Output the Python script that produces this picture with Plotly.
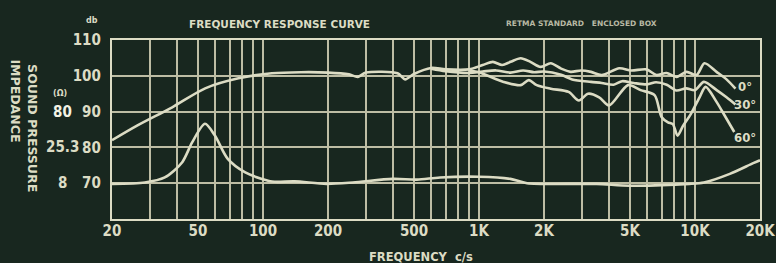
import plotly.graph_objects as go

# ---- data ----
freq_0deg = [20, 26, 38, 54, 77, 110, 150, 200, 250, 275, 300, 420, 455, 500, 600, 700, 900,
             1040, 1160, 1280, 1400, 1560, 1730, 1930, 2150, 2400, 2660, 2970, 3300, 3700,
             4460, 5070, 5960, 6630, 7380, 8210, 9140, 10170, 11070, 12580, 14000, 15400]
spl_0deg = [82, 86, 91.2, 96.5, 99.3, 100.7, 101, 100.9, 100.4, 99.7, 100.9, 100.7, 99, 100.5,
            102.2, 101.8, 101.8, 103, 103.9, 103, 103.9, 104.9, 103.9, 102.5, 103.5, 102,
            101.1, 101.5, 101.1, 100.2, 102.1, 101.5, 101.8, 100.2, 100.8, 99.7, 101.1,
            100.2, 103.5, 101.1, 99, 96.4]

freq_30deg = [600, 700, 900, 1040, 1200, 1400, 1600, 1800, 2000, 2400, 2700, 3300, 3700, 4200,
              4600, 5200, 6000, 6600, 7400, 8200, 9100, 10000, 11000, 12600, 14000, 15400]
spl_30deg = [102, 101.3, 100.8, 101.2, 101.5, 100.9, 101.5, 101, 101.2, 100.3, 99, 98.3, 98,
             97.5, 98.5, 98, 97.6, 98.2, 97.5, 95.9, 96.5, 96, 98.3, 96, 94, 92]

freq_60deg = [900, 1000, 1100, 1300, 1560, 1700, 1850, 2150, 2600, 2900, 3200, 3600, 4000,
              4900, 5600, 6500, 7000, 7500, 7900, 8300, 8800, 9500, 10500, 11200, 12500,
              14000, 15200]
spl_60deg = [101.5, 101, 100, 98.3, 97.4, 98.8, 97.4, 96.4, 95.5, 93.1, 95, 94, 91.7, 97.4,
             96, 94.6, 88.5, 87, 86.5, 83.3, 86, 89, 94, 96.9, 93, 88, 84.3]

freq_imp = [20, 28.4, 35.1, 42.2, 47, 53.9, 59.9, 68.7, 82.8, 98.9, 113, 140, 197, 261, 399,
            516, 660, 1000, 1397, 1670, 3500, 5000, 9400, 11000, 14500, 18600, 20000]
imp_db = [69.8, 70.2, 71.6, 75.8, 81.4, 86.6, 83.3, 76.8, 73, 71.2, 70.4, 70.5, 69.8, 70.2,
          71.2, 71, 71.6, 71.8, 71.2, 70, 69.8, 69.3, 69.8, 70.2, 72.6, 75.6, 76.4]

x_grid = [20, 30, 40, 50, 60, 70, 80, 90, 100, 200, 300, 400, 500, 600, 700, 800, 900,
          1000, 2000, 3000, 4000, 5000, 6000, 7000, 8000, 9000, 10000, 20000]
x_labels = {20: "20", 50: "50", 100: "100", 200: "200", 500: "500", 1000: "1K",
            2000: "2K", 5000: "5K", 10000: "10K", 20000: "20K"}
db_ticks = [70, 80, 90, 100, 110]
ohm_levels = [90, 80, 70]
ohm_labels = ["80", "25.3", "8"]
angle_labels = ["0°", "30°", "60°"]
angle_levels = [96.9, 92.0, 82.8]

# ---- styling ----
BG = "#18271f"
INK = "#dcdcc4"
GRID = "#bdbda4"
COND = "DejaVu Sans Condensed, sans-serif"
SANS = "DejaVu Sans, sans-serif"

fig = go.Figure()
line_style = dict(color=INK, width=2.6, shape="spline", smoothing=0.8)
for fx, fy in [(freq_0deg, spl_0deg), (freq_30deg, spl_30deg),
               (freq_60deg, spl_60deg), (freq_imp, imp_db)]:
    fig.add_trace(go.Scatter(x=fx, y=fy, mode="lines", line=line_style,
                             hoverinfo="skip", showlegend=False))

tick_font = dict(family=COND, size=15, color=INK, weight="bold")
fig.update_layout(
    width=776, height=263, autosize=False,
    margin=dict(l=112, r=16, t=40, b=44),
    paper_bgcolor=BG, plot_bgcolor=BG,
    showlegend=False,
    xaxis=dict(type="log", range=[1.30103, 4.30103], automargin=False,
               tickmode="array", tickvals=x_grid,
               ticktext=[x_labels.get(v, "") for v in x_grid],
               showgrid=True, gridcolor=GRID, gridwidth=1.6,
               showline=True, linecolor=INK, linewidth=2.4, mirror=True,
               ticks="", zeroline=False, ticklabelstandoff=-3,
               ticklabeloverflow="allow", tickfont=tick_font),
    yaxis=dict(range=[60, 110], automargin=False, tickmode="array", tickvals=db_ticks,
               ticktext=[str(v) for v in db_ticks],
               showgrid=True, gridcolor=GRID, gridwidth=1.6,
               showline=True, linecolor=INK, linewidth=2.4, mirror=True,
               ticks="", zeroline=False, ticklabelstandoff=6,
               tickfont=tick_font),
)


def note(x, y, text, font, yref="paper", **kw):
    return dict(x=x, y=y, xref="paper", yref=yref, text=text, showarrow=False,
                xanchor="center", yanchor="middle", font=font, **kw)


ann = []
# impedance scale
for lvl, lab in zip(ohm_levels, ohm_labels):
    f = dict(tick_font)
    if lab == "80":
        f["color"] = "#f2f2e4"
    ann.append(note(-0.077, lvl, lab, f, yref="y"))
ann.append(note(-0.081, 95.0, "(Ω)", dict(family=SANS, size=8, color=INK, weight="bold"),
                yref="y"))
ann.append(note(-0.031, 1.11, "db", dict(family=SANS, size=8, color=INK, weight="bold")))
# rotated axis captions
ann.append(note(-0.122, 0.508, "SOUND PRESSURE",
                dict(family=SANS, size=12.5, color=INK, weight="bold"), textangle=90))
ann.append(note(-0.149, 0.66, "IMPEDANCE",
                dict(family=SANS, size=12.5, color=INK, weight="bold"), textangle=90))
# titles
ann.append(note(0.259, 1.09, "FREQUENCY RESPONSE CURVE",
                dict(family=SANS, size=10.5, color=INK, weight="bold")))
ann.append(note(0.725, 1.09, "RETMA STANDARD   ENCLOSED BOX",
                dict(family=SANS, size=7.5, color="#b9b9a4", weight="bold")))
ann.append(note(0.477, -0.212, "FREQUENCY  c/s",
                dict(family=SANS, size=11.5, color=INK, weight="bold")))
# angle labels
for lvl, lab in zip(angle_levels, angle_labels):
    ann.append(note(0.977, lvl, lab, dict(family=COND, size=13, color=INK, weight="bold"),
                    yref="y"))
fig.update_layout(annotations=ann)

fig.write_html(
    "out.html",
    config={"displayModeBar": False, "responsive": False},
    post_script="document.body.style.margin='0';"
                "document.body.style.overflow='hidden';"
                "document.body.style.background='" + BG + "';",
)
